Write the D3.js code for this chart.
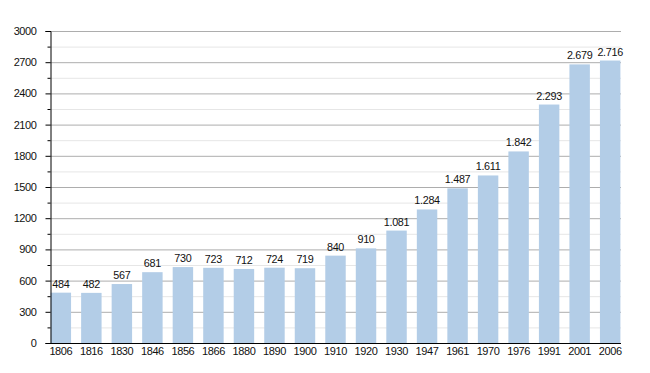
<!DOCTYPE html>
<html><head><meta charset="utf-8">
<script src="https://cdn.jsdelivr.net/npm/d3@7"></script>
<style>body{margin:0;background:#fff}svg{display:block}</style>
</head><body>
<svg id="c" width="650" height="373"></svg>
<script>
const years = ["1806","1816","1830","1846","1856","1866","1880","1890","1900","1910","1920","1930","1947","1961","1970","1976","1991","2001","2006"];
const population = [484,482,567,681,730,723,712,724,719,840,910,1081,1284,1487,1611,1842,2293,2679,2716];
const yTicks = [0,300,600,900,1200,1500,1800,2100,2400,2700,3000];
const yMinor = [150,450,750,1050,1350,1650,1950,2250,2550,2850];

const svg = d3.select("#c");
const font = "Liberation Sans, Arial, sans-serif";
const x = d3.scaleBand().domain(years).range([50, 621]).paddingInner(0.33).paddingOuter(0.02);
const y = d3.scaleLinear().domain([0, 3000]).range([343, 31]);

svg.append("g").selectAll("line").data(yMinor).join("line")
  .attr("x1", 50).attr("x2", 621).attr("y1", d => y(d)+0.5).attr("y2", d => y(d)+0.5)
  .attr("stroke", "#e6e6e6").attr("stroke-width", 1);
svg.append("g").selectAll("line").data(yTicks.filter(d => d > 0)).join("line")
  .attr("x1", 50).attr("x2", 621).attr("y1", d => y(d)+0.5).attr("y2", d => y(d)+0.5)
  .attr("stroke", "#adadad").attr("stroke-width", 1);

svg.append("g").selectAll("rect").data(years).join("rect")
  .attr("x", d => x(d)).attr("width", x.bandwidth())
  .attr("y", (d, i) => y(population[i])).attr("height", (d, i) => y(0) - y(population[i]))
  .attr("fill", "#b3cde7");

const fmt = v => v >= 1000 ? Math.floor(v/1000) + "." + String(v % 1000).padStart(3, "0") : String(v);
svg.append("g").selectAll("text").data(years).join("text")
  .attr("x", d => x(d) + x.bandwidth()/2)
  .attr("y", (d, i) => y(population[i]) - 5)
  .attr("text-anchor", "middle")
  .attr("font-family", font).attr("font-size", 10.8).attr("letter-spacing", -0.3).attr("fill", "#111")
  .text((d, i) => fmt(population[i]));

const ya = svg.append("g").attr("transform", "translate(50.5,0)");
ya.call(d3.axisLeft(y).tickValues(yTicks).tickSize(5).tickPadding(9).tickFormat(d3.format("d")));
ya.select(".domain").attr("stroke", "#000");
ya.selectAll("text").attr("font-family", font).attr("font-size", 11).attr("letter-spacing", -0.4).attr("fill", "#111");
ya.selectAll("line").attr("stroke", "#000");
ya.append("g").selectAll("line").data(yMinor).join("line")
  .attr("x1", -3).attr("x2", 0).attr("y1", d => y(d)+0.5).attr("y2", d => y(d)+0.5)
  .attr("stroke", "#000");

const xa = svg.append("g").attr("transform", "translate(0,343.5)");
xa.call(d3.axisBottom(x).tickSize(0).tickPadding(4));
xa.select(".domain").attr("stroke", "#000").attr("d", "M50,0H621");
xa.selectAll("text").attr("font-family", font).attr("font-size", 11).attr("letter-spacing", -0.4).attr("fill", "#111");
</script>
</body></html>
